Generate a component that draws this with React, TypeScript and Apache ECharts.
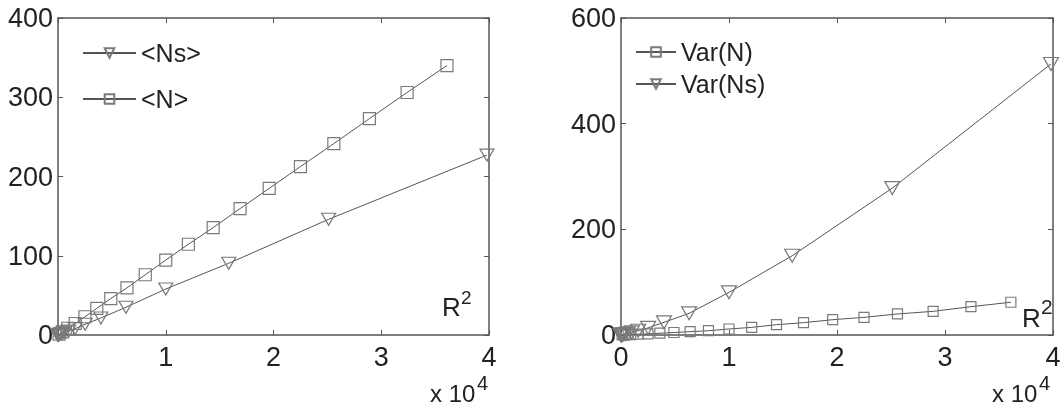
import React, { useEffect, useRef } from "react";
import * as echarts from "echarts";

// ---- data ----
// R^2 sample points (squares)
const r2Square = [100, 400, 900, 1600, 2500, 3600, 4900, 6400, 8100, 10000, 12100, 14400, 16900, 19600, 22500, 25600, 28900, 32400, 36100];
const meanN = [1.2, 4, 8.5, 14.5, 23, 33.5, 46, 59.5, 76, 94.5, 114.5, 135.5, 159.5, 185, 212.5, 241.5, 273, 306, 340];
const varN = [0.1, 0.4, 0.8, 1.5, 2.3, 3.4, 4.7, 6.3, 8.1, 11.4, 14.4, 19.5, 23.3, 29, 33.4, 39.8, 44.8, 53.6, 62];

// R^2 sample points (triangles)
const r2Tri = [1, 1.6, 2.5, 4, 6.3, 10, 15.8, 25.1, 39.8, 63.1, 100, 158, 251, 398, 631, 1000, 1585, 2512, 3981, 6310, 10000, 15849, 25119, 39811];
const meanNs = [0, 0, 0, 0, 0.03, 0.05, 0.08, 0.13, 0.2, 0.3, 0.5, 0.8, 1.3, 2, 3.1, 5, 8, 13.5, 21.5, 35, 58, 90.5, 146, 227];
const varNs = [0, 0, 0, 0, 0.03, 0.05, 0.08, 0.13, 0.2, 0.3, 0.5, 0.8, 1.3, 2, 3, 5, 8, 13.5, 24, 41, 80.7, 150, 278, 513];

const xTicks = [0, 10000, 20000, 30000, 40000];
const leftYTicks = [0, 100, 200, 300, 400];
const rightYTicks = [0, 200, 400, 600];

const FONT = "Liberation Sans";
const AXIS = "#555";
const LINE = "#555";
const MARK = "#7a7a7a";

const pair = (xs: number[], ys: number[]) => xs.map((x, i) => [x, ys[i]]);

export default function App() {
  const ref = useRef<HTMLDivElement>(null);
  useEffect(() => {
    if (!ref.current) return;
    const chart = echarts.init(ref.current, undefined, { renderer: "svg" });

    const mkX = (grid: number, top: boolean, hideZero: boolean) => ({
      type: "value",
      gridIndex: grid,
      position: top ? "top" : "bottom",
      min: xTicks[0],
      max: xTicks[xTicks.length - 1],
      interval: xTicks[1] - xTicks[0],
      axisLine: { show: true, onZero: false, lineStyle: { color: AXIS, width: 1.5 } },
      axisTick: { show: true, inside: true, length: 5, lineStyle: { color: AXIS } },
      splitLine: { show: false },
      axisLabel: {
        show: !top,
        margin: 8,
        fontSize: 27,
        fontFamily: FONT,
        color: "#222",
        formatter: (v: number) => (hideZero && v === 0 ? "" : String(v / 10000)),
      },
    });
    const mkY = (grid: number, right: boolean, ticks: number[]) => ({
      type: "value",
      gridIndex: grid,
      position: right ? "right" : "left",
      min: ticks[0],
      max: ticks[ticks.length - 1],
      interval: ticks[1] - ticks[0],
      axisLine: { show: true, onZero: false, lineStyle: { color: AXIS, width: 1.5 } },
      axisTick: { show: true, inside: true, length: 5, lineStyle: { color: AXIS } },
      splitLine: { show: false },
      axisLabel: { show: !right, margin: 5, fontSize: 27, fontFamily: FONT, color: "#222" },
    });

    const sq = (size: number) => ({
      symbol: "rect",
      symbolSize: size,
      itemStyle: { color: "transparent", borderColor: MARK, borderWidth: 1.2 },
    });
    const tri = (w: number, h: number) => ({
      symbol: "triangle",
      symbolRotate: 180,
      symbolSize: [w, h],
      itemStyle: { color: "transparent", borderColor: MARK, borderWidth: 1.2 },
    });
    const base = { type: "line", lineStyle: { color: LINE, width: 1 }, showAllSymbol: true, clip: false };

    const legendText = { fontSize: 25, lineHeight: 26, color: "#222", fontFamily: FONT };

    const txt = (text: string, x: number, y: number, size: number) => ({
      type: "text",
      x,
      y,
      style: { text, fill: "#222", fontSize: size, fontFamily: FONT, align: "left", verticalAlign: "middle" },
    });

    chart.setOption({
      animation: false,
      textStyle: { fontFamily: FONT },
      grid: [
        { left: 58, top: 18, width: 431, height: 317 },
        { left: 621, top: 18, width: 432, height: 317 },
      ],
      xAxis: [mkX(0, false, true), mkX(0, true, true), mkX(1, false, false), mkX(1, true, false)],
      yAxis: [mkY(0, false, leftYTicks), mkY(0, true, leftYTicks), mkY(1, false, rightYTicks), mkY(1, true, rightYTicks)],
      legend: [
        {
          data: ["<Ns>", "<N>"],
          orient: "vertical",
          left: 77,
          top: 35,
          itemWidth: 53,
          itemHeight: 12,
          itemGap: 20,
          selectedMode: false,
          textStyle: legendText,
        },
        {
          data: ["Var(N)", "Var(Ns)"],
          orient: "vertical",
          left: 630,
          top: 34,
          itemWidth: 40,
          itemHeight: 12,
          itemGap: 6,
          selectedMode: false,
          textStyle: legendText,
        },
      ],
      series: [
        { ...base, ...tri(14, 12), name: "<Ns>", xAxisIndex: 0, yAxisIndex: 0, data: pair(r2Tri, meanNs) },
        { ...base, ...sq(12), name: "<N>", xAxisIndex: 0, yAxisIndex: 0, data: pair(r2Square, meanN) },
        { ...base, ...sq(10), name: "Var(N)", xAxisIndex: 2, yAxisIndex: 2, data: pair(r2Square, varN) },
        { ...base, ...tri(15, 13), name: "Var(Ns)", xAxisIndex: 2, yAxisIndex: 2, data: pair(r2Tri, varNs) },
      ],
      graphic: [
        txt("R", 442, 307, 26),
        txt("2", 461, 297, 19),
        txt("R", 1022, 318, 26),
        txt("2", 1041, 306, 21),
        txt("x 10", 430, 393, 24),
        txt("4", 477, 383, 20),
        txt("x 10", 992, 393, 24),
        txt("4", 1039, 383, 20),
      ],
    });
    return () => chart.dispose();
  }, []);
  return <div ref={ref} style={{ position: "fixed", left: 0, top: 0, width: 1064, height: 408 }} />;
}
